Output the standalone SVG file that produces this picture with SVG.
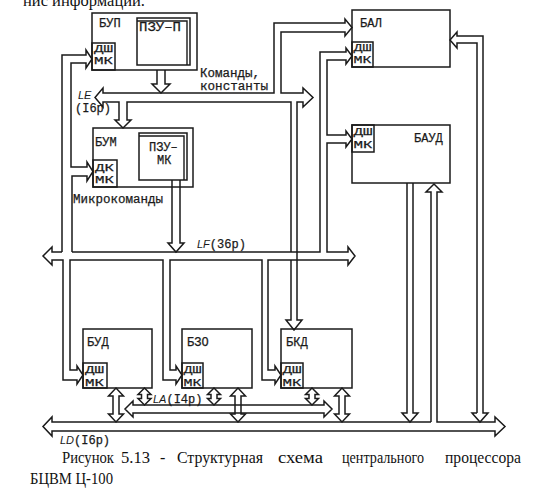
<svg xmlns="http://www.w3.org/2000/svg" width="545" height="500" viewBox="0 0 545 500">
<style>
.bx{fill:#fff;stroke:#1a1a1a;stroke-width:1.5}
.sb{fill:none;stroke:#1a1a1a;stroke-width:1.4}
.ln{fill:none;stroke:#1a1a1a;stroke-width:1.5;stroke-linejoin:miter}
.ar{fill:#fff;stroke:#1a1a1a;stroke-width:1.5;stroke-linejoin:miter}
.t{font-family:"Liberation Mono","DejaVu Sans Mono",monospace;font-size:12px;fill:#1a1a1a;stroke:#1a1a1a;stroke-width:0.25}
.s{font-family:"Liberation Mono","DejaVu Sans Mono",monospace;font-size:11px;fill:#1a1a1a;stroke:#1a1a1a;stroke-width:0.25}
.i{font-family:"Liberation Sans","DejaVu Sans",sans-serif;font-style:italic;font-size:11px;fill:#1a1a1a}
.c{font-family:"Liberation Serif","Times New Roman",serif;font-size:16px;fill:#111}
</style>
<rect width="545" height="500" fill="#fff"/>
<text class="c" x="23" y="6" textLength="122" lengthAdjust="spacingAndGlyphs">нис информации.</text>

<g id="connectors">
  <path class="ln" d="M291,260 V320 H286 L294,330 L302,320 H297 V102 H303 V107 L313,97.5 L303,88 V93 H281 V32 H345 V36 L352,27.5 L345,19 V23 H274 V93 H103 V88 L95,97.5 L103,107 V102 H119 V120 H115 L123,128 L131,120 H127 V102 H291 V252"/>
  <path class="ar" d="M157,70 V84 H152 L161,93 L170,84 H165 V70"/>
  <path class="ln" d="M62,252 V55 H86 V50 L92,59 L86,68 V63 H71 V167 H87 V162 L93,171.5 L87,181 V176 H72 V252"/>
  <path class="ar" d="M172,180 V243 H168 L176,252 L184,243 H180 V180"/>
  <path class="ln" d="M62,252 H52 V247 L43,256 L52,265 V260 H63 V380 H77 V384 L83,375 L77,366 V370 H70 V260 H163 V380 H176 V384 L182,375 L176,366 V370 H170 V260 H262 V380 H275 V384 L281,375 L275,366 V370 H268 V260 H291"/>
  <path class="ln" d="M291,260 H348 V265 L355,256 L348,247 V252 H327 V143 H346 V147 L352,139 L346,131 V135 H327 V60 H346 V64 L352,56 L346,48 V52 H320 V252 H72"/>
  <path class="ln" d="M477,413 V43 H457 V48 L450,40 L457,32 V36 H483 V413 H488 L480,422 L472,413 H477"/>
  <path class="ln" d="M407,183 V413 H402 L410,422 L418,413 H413 V183"/>
  <path class="ln" d="M431,422 V192 H426 L434,184 L442,192 H437 V422 H495 V417 L505,426.5 L495,436 V431 H52 V436 L43,426.5 L52,417 V422 H431"/>
  <path class="ln" d="M133,405 H324 V401 L332,409 L324,417 V413 H133 V417 L125,409 L133,401 Z"/>
  <path class="ar" d="M113,396 H108.5 L116,388 L123.5,396 H119 V414 H123.5 L116,422 L108.5,414 H113 Z"/>
  <path class="ar" d="M141.5,394.5 H138 L144.5,388 L151,394.5 H147.5 V398.5 H151 L144.5,405 L138,398.5 H141.5 Z"/>
  <path class="ar" d="M211,394.5 H207.5 L214,388 L220.5,394.5 H217 V398.5 H220.5 L214,405 L207.5,398.5 H211 Z"/>
  <path class="ln" d="M235,396 H230.5 L238,388 L245.5,396 H241 V414 H245.5 L238,422 L230.5,414 H235 Z"/>
  <path class="ar" d="M309,394.5 H305.5 L312,388 L318.5,394.5 H315 V398.5 H318.5 L312,405 L305.5,398.5 H309 Z"/>
  <path class="ar" d="M339,396 H334.5 L342,388 L349.5,396 H345 V414 H349.5 L342,422 L334.5,414 H339 Z"/>
</g>

<g id="bup">
  <rect class="bx" x="92" y="13" width="105" height="57"/>
  <text class="t" x="99" y="27">БУП</text>
  <rect class="bx" x="137" y="18" width="53" height="47"/>
  <path class="sb" d="M137,21 H187 V65"/>
  <text class="t" x="139" y="31" textLength="42" lengthAdjust="spacingAndGlyphs">ПЗУ–П</text>
  <rect class="bx" x="92" y="43" width="23" height="27" style="fill:none"/>
  <text class="s" x="94" y="52" textLength="19" lengthAdjust="spacingAndGlyphs">ДШ</text>
  <text class="s" x="94" y="64" textLength="19" lengthAdjust="spacingAndGlyphs">МК</text>
</g>

<g id="bum">
  <rect class="bx" x="93" y="128" width="100" height="59" style="fill:none"/>
  <text class="t" x="95" y="146">БУМ</text>
  <rect class="bx" x="139" y="133" width="48" height="47"/>
  <path class="sb" d="M139,136 H184 V180"/>
  <text class="t" x="149" y="151">ПЗУ–</text>
  <text class="t" x="157" y="164">МК</text>
  <rect class="bx" x="93" y="160" width="24" height="27" style="fill:none"/>
  <text class="s" x="95" y="171" textLength="19" lengthAdjust="spacingAndGlyphs">ДК</text>
  <text class="s" x="95" y="183" textLength="19" lengthAdjust="spacingAndGlyphs">МК</text>
</g>

<g id="bal">
  <rect class="bx" x="352" y="10" width="98" height="57" style="fill:none"/>
  <text class="t" x="360" y="27">БАЛ</text>
  <rect class="bx" x="352" y="42" width="21" height="25" style="fill:none"/>
  <text class="s" x="353.5" y="51" textLength="18" lengthAdjust="spacingAndGlyphs">ДШ</text>
  <text class="s" x="353.5" y="63" textLength="18" lengthAdjust="spacingAndGlyphs">МК</text>
</g>

<g id="baud">
  <rect class="bx" x="352" y="125" width="98" height="58" style="fill:none"/>
  <text class="t" x="414" y="142">БАУД</text>
  <rect class="bx" x="352" y="125" width="22" height="27" style="fill:none"/>
  <text class="s" x="353.5" y="135" textLength="19" lengthAdjust="spacingAndGlyphs">ДШ</text>
  <text class="s" x="353.5" y="148" textLength="19" lengthAdjust="spacingAndGlyphs">МК</text>
</g>

<g id="bud">
  <rect class="bx" x="83" y="329" width="69" height="59" style="fill:none"/>
  <text class="t" x="87" y="346">БУД</text>
  <rect class="bx" x="83" y="363" width="24" height="25" style="fill:none"/>
  <text class="s" x="85" y="373" textLength="19" lengthAdjust="spacingAndGlyphs">ДШ</text>
  <text class="s" x="85" y="386" textLength="19" lengthAdjust="spacingAndGlyphs">МК</text>
</g>

<g id="bzo">
  <rect class="bx" x="182" y="329" width="70" height="59" style="fill:none"/>
  <text class="t" x="187" y="346">БЗО</text>
  <rect class="bx" x="182" y="363" width="21" height="25" style="fill:none"/>
  <text class="s" x="183.5" y="373" textLength="18" lengthAdjust="spacingAndGlyphs">ДШ</text>
  <text class="s" x="183.5" y="386" textLength="18" lengthAdjust="spacingAndGlyphs">МК</text>
</g>

<g id="bkd">
  <rect class="bx" x="281" y="329" width="71" height="59" style="fill:none"/>
  <text class="t" x="286" y="346">БКД</text>
  <rect class="bx" x="281" y="363" width="22" height="25" style="fill:none"/>
  <text class="s" x="282.5" y="373" textLength="19" lengthAdjust="spacingAndGlyphs">ДШ</text>
  <text class="s" x="282.5" y="386" textLength="19" lengthAdjust="spacingAndGlyphs">МК</text>
</g>

<g id="labels">
  <text class="t" x="200" y="77" font-size="11.5" textLength="60" lengthAdjust="spacingAndGlyphs">Команды,</text>
  <text class="t" x="200" y="90" font-size="11.5" textLength="68" lengthAdjust="spacingAndGlyphs">константы</text>
  <text class="i" x="78" y="99">LE</text>
  <text class="t" x="75" y="112">(I6р)</text>
  <text class="t" x="73" y="203" textLength="90" lengthAdjust="spacingAndGlyphs">Микрокоманды</text>
  <text x="197" y="248"><tspan class="i" font-size="12">LF</tspan><tspan class="t">(36р)</tspan></text>
  <text x="153" y="403"><tspan class="i" font-size="12">LA</tspan><tspan class="t">(I4р)</tspan></text>
  <text x="60" y="444"><tspan class="i" font-size="12">LD</tspan><tspan class="t">(I6р)</tspan></text>
</g>

<g id="caption">
  <text class="c" x="62" y="463" textLength="52" lengthAdjust="spacingAndGlyphs">Рисунок</text>
  <text class="c" x="121" y="463" textLength="29" lengthAdjust="spacingAndGlyphs">5.13</text>
  <text class="c" x="160" y="463">-</text>
  <text class="c" x="177" y="463" textLength="86" lengthAdjust="spacingAndGlyphs">Структурная</text>
  <text class="c" x="278" y="463" textLength="45" lengthAdjust="spacingAndGlyphs">схема</text>
  <text class="c" x="342" y="463" textLength="82" lengthAdjust="spacingAndGlyphs">центрального</text>
  <text class="c" x="445" y="463" textLength="76" lengthAdjust="spacingAndGlyphs">процессора</text>
  <text class="c" x="30" y="484" textLength="83" lengthAdjust="spacingAndGlyphs">БЦВМ Ц-100</text>
</g>
</svg>
